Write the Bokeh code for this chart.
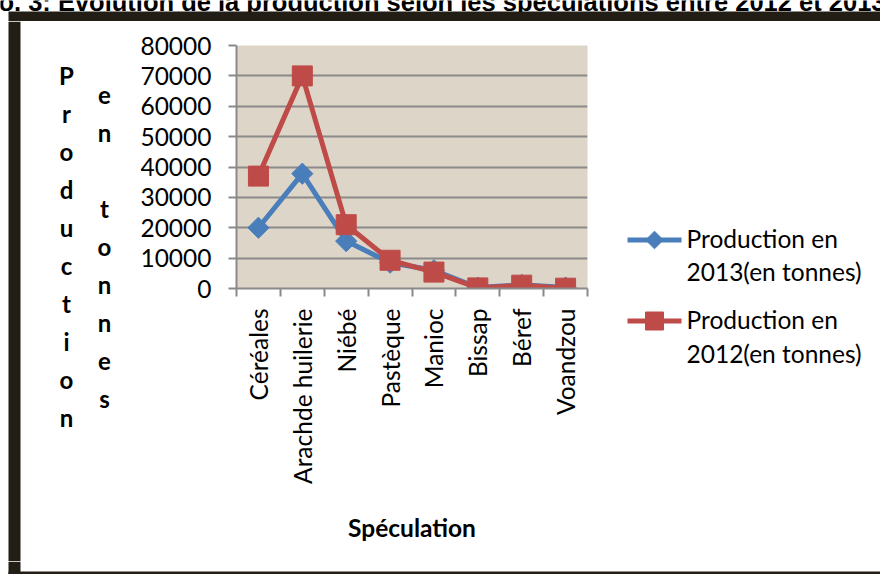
import numpy as np
from bokeh.plotting import figure
from bokeh.layouts import column, row
from bokeh.models import Range1d, FixedTicker, NumeralTickFormatter
from bokeh.core.properties import value
from bokeh.embed import file_html
from bokeh.resources import INLINE

# ---- data -------------------------------------------------------------
categories = ["Céréales", "Arachde huilerie", "Niébé", "Pastèque",
              "Manioc", "Bissap", "Béref", "Voandzou"]
prod_2013 = [20000, 37800, 15600, 8500, 6000, 300, 1200, 300]
prod_2012 = [37000, 70000, 21000, 9300, 5400, 200, 1100, 100]
y_ticks = [0, 10000, 20000, 30000, 40000, 50000, 60000, 70000, 80000]
legend_lines = [("Production en", "2013(en tonnes)"),
                ("Production en", "2012(en tonnes)")]
title_text = ("Graphique no. 3: Evolution de la production selon les "
              "spéculations entre 2012 et 2013")
y_title_cols = ["Production", "en tonnes"]
x_title = "Spéculation"

# ---- page geometry (pixels, origin top-left) ---------------------------
W, H = 880, 574
TOP_H, BOT_H = 21, 13                # title + top bar strip / bottom bar strip
MID_H = H - TOP_H - BOT_H            # 540
LEFT_W, CHART_W = 130, 480
RIGHT_W = W - LEFT_W - CHART_W       # 270
FL, FR, FT, FB = 236, 587, 45, 288   # plot area edges on the page

FONT = "Lato"
BLUE, RED = "#4a7ebb", "#be4b48"
GRID = "#8a8a8a"
FRAME = "#221e16"
PAPER = "#ddd5c7"
MID = 0.36                           # baseline-to-middle offset, in em


def no_align(f):
    """Keep this figure's frame out of the row/column frame alignment."""
    try:
        f.frame_align = False
    except (AttributeError, ValueError):
        pass
    return f


def canvas(width, height, x0, y0):
    """A bare figure whose data coordinates are page pixels (y downwards)."""
    f = figure(width=width, height=height, output_backend="svg",
               toolbar_location=None, x_axis_type=None, y_axis_type=None,
               x_range=Range1d(x0, x0 + width),
               y_range=Range1d(y0 + height, y0),
               min_border=0, outline_line_color=None,
               background_fill_color="white", border_fill_color="white")
    f.grid.visible = False
    return no_align(f)


def mid(baseline, size):
    """y of the text middle for a given baseline and font size (px)."""
    return baseline - MID * size


# ---- top strip: title (runs past the page edge) and the frame's top bar
TITLE_FS = 25.5
top = canvas(W, TOP_H, 0, 0)
top.text(x=[885], y=[mid(10.5, TITLE_FS)], text=[title_text],
         text_font=value("Liberation Sans"), text_font_size=f"{TITLE_FS}px",
         text_font_style="bold", text_color="black",
         text_align="right", text_baseline="middle")
top.quad(left=[8], right=[W], top=[11], bottom=[TOP_H],
         fill_color=FRAME, line_color=None)

# ---- left strip: frame's left bar and the stacked-letter y title
LET_FS = 24
left = canvas(LEFT_W, MID_H, 0, TOP_H)
left.quad(left=[8], right=[20], top=[TOP_H], bottom=[TOP_H + MID_H],
          fill_color=FRAME, line_color=None)
col_x = [66, 104]
col_base = [83.3, 102.7]
letters_x, letters_y, letters = [], [], []
for cx, y0, word in zip(col_x, col_base, y_title_cols):
    for j, ch in enumerate(word):
        if ch != " ":
            letters_x.append(cx)
            letters_y.append(mid(y0 + 38 * j, LET_FS))
            letters.append(ch)
left.text(x=letters_x, y=letters_y, text=letters,
          text_font=value(FONT), text_font_size=f"{LET_FS}px",
          text_font_style="bold", text_color="black",
          text_align="center", text_baseline="middle")

# ---- chart -------------------------------------------------------------
xs = np.arange(len(categories)) + 0.5
p = figure(width=CHART_W, height=MID_H, output_backend="svg",
           toolbar_location=None,
           x_range=Range1d(0, len(categories)), y_range=Range1d(0, 80000),
           min_border_left=FL - LEFT_W,
           min_border_right=LEFT_W + CHART_W - FR,
           min_border_top=FT - TOP_H,
           min_border_bottom=TOP_H + MID_H - FB,
           background_fill_color=PAPER, border_fill_color="white",
           outline_line_color=None)
no_align(p)

p.xgrid.visible = False
p.ygrid.ticker = FixedTicker(ticks=y_ticks)
p.ygrid.grid_line_color = GRID
p.ygrid.grid_line_width = 2

p.yaxis.ticker = FixedTicker(ticks=y_ticks)
p.yaxis.formatter = NumeralTickFormatter(format="0")
p.yaxis.axis_line_color = GRID
p.yaxis.axis_line_width = 2
p.yaxis.major_tick_line_color = GRID
p.yaxis.major_tick_line_width = 2
p.yaxis.major_tick_in = 0
p.yaxis.major_tick_out = 8
p.yaxis.minor_tick_line_color = None
p.yaxis.major_label_text_font = FONT
p.yaxis.major_label_text_font_size = "24.5px"
p.yaxis.major_label_text_color = "black"
p.yaxis.major_label_standoff = 17

# category labels at slot centres, ticks on the slot boundaries
p.xaxis.ticker = FixedTicker(ticks=list(xs),
                             minor_ticks=list(range(len(categories) + 1)))
p.xaxis.major_label_overrides = {float(x): c for x, c in zip(xs, categories)}
p.xaxis.major_label_orientation = np.pi / 2
p.xaxis.major_tick_line_color = None
p.xaxis.major_tick_in = 0
p.xaxis.major_tick_out = 8
p.xaxis.minor_tick_line_color = GRID
p.xaxis.minor_tick_line_width = 2
p.xaxis.minor_tick_in = 0
p.xaxis.minor_tick_out = 8
p.xaxis.axis_line_color = GRID
p.xaxis.axis_line_width = 2
p.xaxis.major_label_text_font = FONT
p.xaxis.major_label_text_font_size = "24.5px"
p.xaxis.major_label_text_color = "black"
p.xaxis.major_label_standoff = 12
p.xaxis.axis_label = x_title
p.xaxis.axis_label_text_font = FONT
p.xaxis.axis_label_text_font_size = "24.5px"
p.xaxis.axis_label_text_font_style = "bold"
p.xaxis.axis_label_text_color = "black"
p.xaxis.axis_label_standoff = 26

p.line(xs, prod_2013, line_color=BLUE, line_width=5, line_join="round")
p.scatter(xs, prod_2013, marker="square", angle=np.pi / 4, size=15,
          fill_color=BLUE, line_color=BLUE)
p.line(xs, prod_2012, line_color=RED, line_width=5, line_join="round")
p.scatter(xs, prod_2012, marker="square", size=20,
          fill_color=RED, line_color=RED)

# ---- right strip: legend -------------------------------------------------
LEG_FS = 24.5
leg = canvas(RIGHT_W, MID_H, LEFT_W + CHART_W, TOP_H)
key_x0, key_x1 = 627, 681
key_y = [239.5, 320.5]
text_x = 686
text_base = [(246.7, 279.5), (328.3, 361.5)]
key_colors = [BLUE, RED]
for ky, col in zip(key_y, key_colors):
    leg.line([key_x0, key_x1], [ky, ky], line_color=col, line_width=5)
kx = (key_x0 + key_x1) / 2
leg.scatter([kx], [key_y[0]], marker="square", angle=np.pi / 4, size=12.5,
            fill_color=BLUE, line_color=BLUE)
leg.scatter([kx], [key_y[1]], marker="square", size=18,
            fill_color=RED, line_color=RED)
tx, ty, tt = [], [], []
for (l1, l2), (b1, b2) in zip(legend_lines, text_base):
    tx += [text_x, text_x]
    ty += [mid(b1, LEG_FS), mid(b2, LEG_FS)]
    tt += [l1, l2]
leg.text(x=tx, y=ty, text=tt, text_font=value(FONT),
         text_font_size=f"{LEG_FS}px", text_color="black",
         text_align="left", text_baseline="middle")

# ---- bottom strip: end of the left bar and the frame's bottom bar
bot = canvas(W, BOT_H, 0, TOP_H + MID_H)
bot.quad(left=[8, 8], right=[20, W], top=[TOP_H + MID_H, 571], bottom=[H, H],
         fill_color=FRAME, line_color=None)

page = column(top, row(left, p, leg), bot)
open("out.html", "w").write(file_html(page, INLINE))
